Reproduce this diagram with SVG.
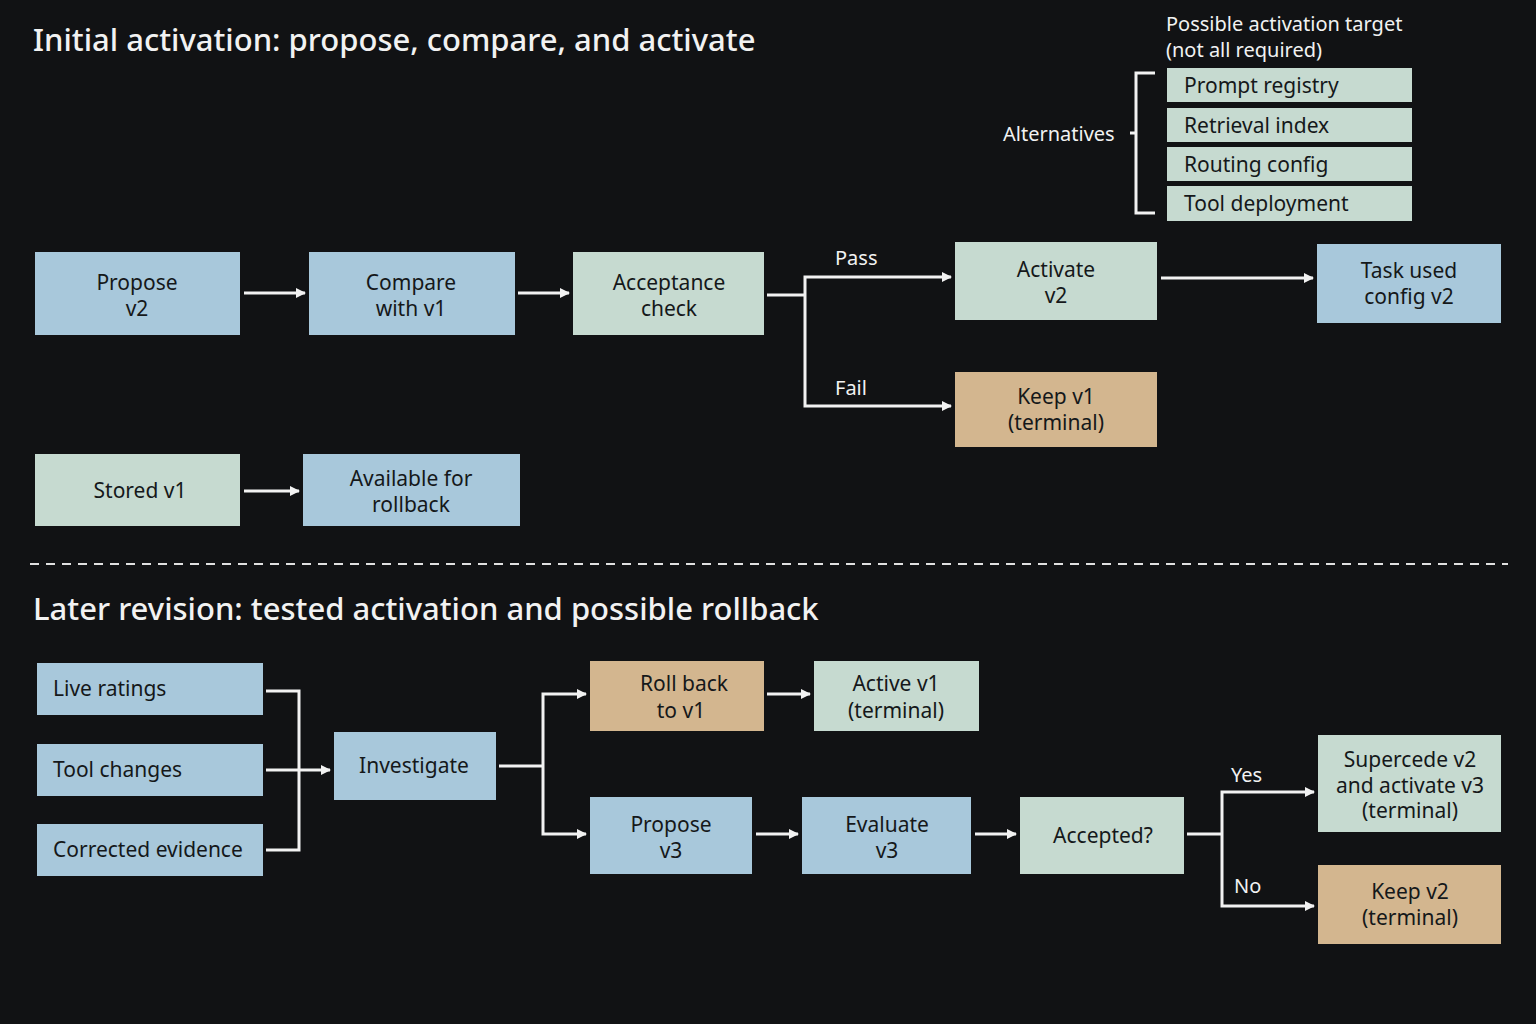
<svg xmlns="http://www.w3.org/2000/svg" width="1536" height="1024" viewBox="0 0 1536 1024">
<defs>
<style>
text{font-family:"Noto Sans","Open Sans",sans-serif;}
.t{font-size:21px;fill:#15181a;text-anchor:middle;}
.tl{font-size:21px;fill:#15181a;}
.h{font-size:31px;fill:#f2f2f2;font-weight:500;}
.w{font-size:20px;fill:#f2f2f2;}
.b{fill:#a8c8db;}
.g{fill:#c6dad0;}
.o{fill:#d3b68f;}
.c{fill:none;stroke:#f2f2f2;stroke-width:3;}
</style>
<marker id="a" markerWidth="10" markerHeight="10" refX="9" refY="5" orient="auto" markerUnits="userSpaceOnUse" viewBox="0 0 10 10"><path d="M0,0L10,5L0,10z" fill="#f2f2f2"/></marker>
</defs>
<rect width="1536" height="1024" fill="#111214"/>
<text class="h" x="33" y="51">Initial activation: propose, compare, and activate</text>
<text class="h" x="33" y="620">Later revision: tested activation and possible rollback</text>
<text class="w" x="1166" y="31">Possible activation target</text>
<text class="w" x="1166" y="57">(not all required)</text>
<text class="w" x="1003" y="141">Alternatives</text>
<line x1="30" y1="564" x2="1508" y2="564" stroke="#e0e0e0" stroke-width="2" stroke-dasharray="9,7"/>
<g id="n-targets">
<rect class="g" x="1167" y="68" width="245" height="34"/><text class="tl" x="1184" y="93">Prompt registry</text>
<rect class="g" x="1167" y="108" width="245" height="34"/><text class="tl" x="1184" y="133">Retrieval index</text>
<rect class="g" x="1167" y="147" width="245" height="34"/><text class="tl" x="1184" y="172">Routing config</text>
<rect class="g" x="1167" y="186" width="245" height="35"/><text class="tl" x="1184" y="211">Tool deployment</text>
</g>
<g id="n-propose2"><rect class="b" x="35" y="252" width="205" height="83"/><text class="t" x="137" y="290">Propose</text><text class="t" x="137" y="316">v2</text></g>
<g id="n-compare"><rect class="b" x="309" y="252" width="206" height="83"/><text class="t" x="411" y="290">Compare</text><text class="t" x="411" y="316">with v1</text></g>
<g id="n-accept"><rect class="g" x="573" y="252" width="191" height="83"/><text class="t" x="669" y="290">Acceptance</text><text class="t" x="669" y="316">check</text></g>
<g id="n-activate"><rect class="g" x="955" y="242" width="202" height="78"/><text class="t" x="1056" y="277">Activate</text><text class="t" x="1056" y="303">v2</text></g>
<g id="n-task"><rect class="b" x="1317" y="244" width="184" height="79"/><text class="t" x="1409" y="278">Task used</text><text class="t" x="1409" y="304">config v2</text></g>
<g id="n-keep1"><rect class="o" x="955" y="372" width="202" height="75"/><text class="t" x="1056" y="404">Keep v1</text><text class="t" x="1056" y="430">(terminal)</text></g>
<g id="n-stored"><rect class="g" x="35" y="454" width="205" height="72"/><text class="t" x="140" y="498">Stored v1</text></g>
<g id="n-avail"><rect class="b" x="303" y="454" width="217" height="72"/><text class="t" x="411" y="486">Available for</text><text class="t" x="411" y="512">rollback</text></g>
<g id="n-live"><rect class="b" x="37" y="663" width="226" height="52"/><text class="tl" x="53" y="696">Live ratings</text></g>
<g id="n-toolch"><rect class="b" x="37" y="744" width="226" height="52"/><text class="tl" x="53" y="777">Tool changes</text></g>
<g id="n-corr"><rect class="b" x="37" y="824" width="226" height="52"/><text class="tl" x="53" y="857">Corrected evidence</text></g>
<g id="n-invest"><rect class="b" x="334" y="732" width="162" height="68"/><text class="t" x="414" y="773">Investigate</text></g>
<g id="n-rollback"><rect class="o" x="590" y="661" width="174" height="70"/><text class="t" x="684" y="691">Roll back</text><text class="t" x="681" y="718">to v1</text></g>
<g id="n-active1"><rect class="g" x="814" y="661" width="165" height="70"/><text class="t" x="896" y="691">Active v1</text><text class="t" x="896" y="718">(terminal)</text></g>
<g id="n-prop3"><rect class="b" x="590" y="797" width="162" height="77"/><text class="t" x="671" y="832">Propose</text><text class="t" x="671" y="858">v3</text></g>
<g id="n-eval3"><rect class="b" x="802" y="797" width="169" height="77"/><text class="t" x="887" y="832">Evaluate</text><text class="t" x="887" y="858">v3</text></g>
<g id="n-accq"><rect class="g" x="1020" y="797" width="164" height="77"/><text class="t" x="1103" y="843">Accepted?</text></g>
<g id="n-super"><rect class="g" x="1318" y="735" width="183" height="97"/><text class="t" x="1410" y="767">Supercede v2</text><text class="t" x="1410" y="793">and activate v3</text><text class="t" x="1410" y="818">(terminal)</text></g>
<g id="n-keep2"><rect class="o" x="1318" y="865" width="183" height="79"/><text class="t" x="1410" y="899">Keep v2</text><text class="t" x="1410" y="925">(terminal)</text></g>
<g id="connectors">
<path class="c" d="M1155,73H1136V213H1155M1136,133H1130"/>
<path class="c" marker-end="url(#a)" d="M244,293H305"/>
<path class="c" marker-end="url(#a)" d="M518,293H569"/>
<path class="c" d="M767,295H805"/>
<path class="c" marker-end="url(#a)" d="M805,295V277H951"/>
<path class="c" marker-end="url(#a)" d="M805,295V406H951"/>
<path class="c" marker-end="url(#a)" d="M1161,278H1313"/>
<path class="c" marker-end="url(#a)" d="M244,491H299"/>
<path class="c" d="M266,691H299V850H266"/>
<path class="c" marker-end="url(#a)" d="M266,770H330"/>
<path class="c" d="M499,766H543"/>
<path class="c" marker-end="url(#a)" d="M543,766V694H586"/>
<path class="c" marker-end="url(#a)" d="M543,766V834H586"/>
<path class="c" marker-end="url(#a)" d="M767,694H810"/>
<path class="c" marker-end="url(#a)" d="M756,834H798"/>
<path class="c" marker-end="url(#a)" d="M975,834H1016"/>
<path class="c" d="M1187,834H1222"/>
<path class="c" marker-end="url(#a)" d="M1222,834V792H1314"/>
<path class="c" marker-end="url(#a)" d="M1222,834V906H1314"/>
</g>
<text class="w" x="835" y="265">Pass</text>
<text class="w" x="835" y="395">Fail</text>
<text class="w" x="1231" y="782">Yes</text>
<text class="w" x="1234" y="893">No</text>
</svg>
